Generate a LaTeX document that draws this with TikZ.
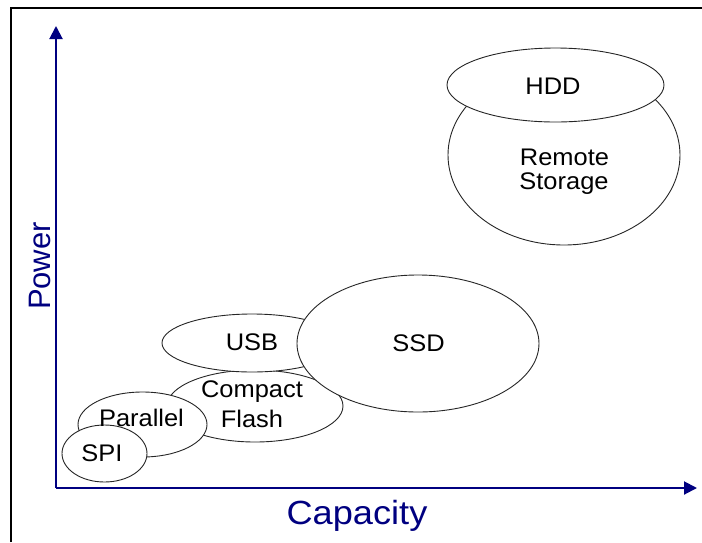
\documentclass[tikz,border=0pt]{standalone}
\usepackage{fontspec}
\setmainfont{Liberation Sans}
\usetikzlibrary{shapes.geometric,arrows.meta}

\definecolor{axisblue}{RGB}{0,0,128}

% slightly widened sans lettering
\newcommand{\widetext}[1]{\scalebox{1.06}[1]{#1}}

\tikzset{
  blob/.style={ellipse, draw=black!85, line width=0.9pt, fill=white, inner sep=0pt},
  tag/.style={anchor=base, inner sep=0pt, font=\fontsize{24}{28}\selectfont},
  axisline/.style={draw=axisblue, line width=2pt, -{Triangle[length=13pt,width=13pt]}},
  axislabel/.style={text=axisblue, inner sep=0pt},
}

\begin{document}
\begin{tikzpicture}[x=1pt, y=-1pt]
  \useasboundingbox (0,0) rectangle (702,542);

  % outer frame (left and top edges)
  \draw[line width=2.5pt] (11,542) -- (11,8) -- (702,8);

  % axes
  \coordinate (origin) at (56,488);
  \coordinate (ytip) at (56,26);
  \coordinate (xtip) at (697,488);
  \draw[axisline] (origin) -- (ytip);
  \draw[axisline] (origin) -- (xtip);

  \node[axislabel, anchor=base, font=\fontsize{33.5}{38}\selectfont] (cap) at (357,524)
    {\scalebox{1.08}[1]{Capacity}};
  \node[axislabel, anchor=base, rotate=90, font=\fontsize{31}{36}\selectfont] (pow) at (50,266)
    {Power};

  % storage media, back to front
  \node[blob, minimum width=232pt, minimum height=180pt] (remote) at (564,155) {};
  \node[blob, minimum width=217pt, minimum height=74pt] (hdd) at (555.5,85) {};
  \node[blob, minimum width=176pt, minimum height=72pt] (cf) at (255,406) {};
  \node[blob, minimum width=180pt, minimum height=58pt] (usb) at (252,343) {};
  \node[blob, minimum width=242pt, minimum height=137pt] (ssd) at (418,343.5) {};
  \node[blob, minimum width=129pt, minimum height=65pt] (par) at (142.5,424.5) {};
  \node[blob, minimum width=85pt, minimum height=57pt] (spi) at (104.5,453.5) {};

  % labels
  \node[tag] (tremote) at (564.5,165) {\widetext{Remote}};
  \node[tag] (tstorage) at (564,189) {\widetext{Storage}};
  \node[tag] (thdd) at (553,94) {\widetext{HDD}};
  \node[tag] (tcompact) at (252,397) {\widetext{Compact}};
  \node[tag] (tflash) at (252,427) {\widetext{Flash}};
  \node[tag] (tusb) at (252,350) {\widetext{USB}};
  \node[tag] (tssd) at (418.5,351.7) {\widetext{SSD}};
  \node[tag] (tpar) at (141.5,426) {\widetext{Parallel}};
  \node[tag] (tspi) at (102,461.7) {\widetext{SPI}};
\end{tikzpicture}
\end{document}
